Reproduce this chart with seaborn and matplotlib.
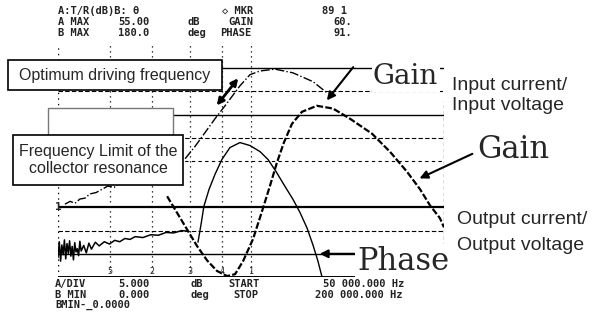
import seaborn as sns
import matplotlib
matplotlib.use('Agg')
import matplotlib.pyplot as plt
from matplotlib.patches import Rectangle

# analyzer trace, frequency in kHz, A = gain in dB, B = phase in degrees
in_freq = [92.4, 96.2, 100.1, 104.0, 107.9, 111.8, 115.7, 118.8, 121.9, 125.8, 129.3,
           132.4, 135.1, 137.8, 140.9, 144.8, 150.6, 156.9, 163.5, 172.0, 179.0,
           185.6, 190.7, 194.6, 198.4, 200.0]
in_gain = [22.4, 18.9, 15.3, 11.7, 8.6, 6.3, 5.2, 5.6, 8.4, 13.2, 19.2,
           24.7, 29.7, 34.0, 38.0, 40.6, 41.9, 41.3, 39.1, 35.9, 32.0,
           27.7, 23.9, 20.4, 17.7, 15.7]

up_freq = [52.7, 54.7, 56.6, 58.5, 60.5, 62.4, 64.8, 67.1, 69.4, 71.8, 74.1, 76.8, 79.9,
           85.8, 93.5, 99.4, 103.2, 107.1, 111.0, 114.9, 120.7, 124.6, 128.5, 134.3,
           141.3, 149.1, 154.5]
up_gain = [20.7, 21.3, 20.9, 21.8, 22.0, 22.9, 23.2, 23.9, 24.6, 24.3, 25.3, 25.9, 26.9,
           28.2, 29.5, 30.5, 33.1, 36.1, 39.1, 41.9, 46.2, 48.6, 49.4, 49.8,
           49.0, 47.1, 44.7]

out_freq = [50.0, 50.5, 51.0, 51.5, 52.0, 52.5, 53.0, 53.5, 54.0, 54.5, 55.0, 55.5, 56.0,
            56.5, 57.0, 57.5, 58.0, 58.5, 59.0, 60, 61, 62, 63, 64.5, 66, 68, 70, 72,
            74, 76, 78, 80, 83, 86, 89, 92, 95, 98, 100]
out_gain = [9.2, 12.6, 8.4, 11.9, 9.8, 13.0, 8.9, 12.2, 10.1, 12.8, 9.5, 11.6, 8.7,
            12.4, 10.4, 11.1, 9.6, 12.7, 10.6, 11.8, 10.2, 12.3, 11.0, 12.5, 11.7, 12.6,
            12.1, 12.9, 12.6, 13.3, 13.1, 13.7, 13.5, 14.1, 14.0, 14.6, 14.5, 15.0, 14.9]

ph_freq = [104.4, 105.6, 106.7, 108.7, 111.0, 113.7, 116.8, 120.7, 124.6, 128.5, 131.6,
           134.7, 138.2, 141.3, 144.0, 146.8, 149.1, 151.0, 152.6]
ph_deg = [27.0, 41.0, 54.9, 68.0, 79.6, 91.2, 100.4, 104.3, 102.0, 97.3, 91.2,
          81.9, 70.3, 60.3, 50.2, 37.9, 24.7, 12.4, 0.0]

grid_db = [50, 45, 40, 35, 30, 20, 15, 10, 5]
marker_freq = [70.2, 86.5, 101.3, 113.7, 125.0]
marker_names = ['5', '2', '3', '4', '1']

# screen readouts: (text, left pixel) per row
head_rows = [[('A:T/R(dB)B: θ', 58), ('◇ MKR', 222), ('89 1', 322)],
             [('A MAX', 58), ('55.00', 118), ('dB', 188), ('GAIN', 228), ('60.', 333)],
             [('B MAX', 58), ('180.0', 118), ('deg', 188), ('PHASE', 220), ('91.', 333)]]
foot_rows = [[('A/DIV', 55), ('5.000', 118), ('dB', 190), ('START', 228), ('50 000.000 Hz', 323)],
             [('B MIN', 55), ('0.000', 118), ('deg', 190), ('STOP', 233), ('200 000.000 Hz', 315)],
             [('BMIN-_0.0000', 55)]]

sns.set_style('white')
plt.rcParams['font.family'] = ['Liberation Sans', 'DejaVu Sans']

fig = plt.figure(figsize=(5.97, 3.29), dpi=100)
ax = fig.add_axes([58 / 597, 1 - 277 / 329, 386 / 597, 232 / 329])
ax2 = ax.twinx()
ax.set_xlim(50, 200)
ax.set_ylim(5, 55)
ax2.set_ylim(0, 180)
for a in (ax, ax2):
    for s in a.spines.values():
        s.set_visible(False)
    a.set_xticks([])
    a.set_yticks([])

# grid of the analyzer screen
styles = ['-', (0, (4, 2)), '-', (0, (4, 2)), (0, (3, 3)), '-', (0, (4, 2)), '-', '-']
widths = [1.0, 0.8, 1.0, 0.8, 0.8, 1.6, 0.8, 1.0, 1.4]
for lev, st, w in zip(grid_db, styles, widths):
    ax.axhline(lev, color='black', ls=st, lw=w, zorder=1)
ax.axvline(50, color='black', ls=(0, (1, 3)), lw=1.0, zorder=1)
ax.vlines(200, 5, 43, color='black', ls=(0, (3, 2)), lw=0.9, zorder=1)
for f, name in zip(marker_freq, marker_names):
    ax.axvline(f, color='black', ls=(0, (1, 3)), lw=0.9, zorder=1)
    ax.text(f, 6.2, name, fontsize=6, ha='center', va='center', family='DejaVu Sans Mono')
ax.text(50.3, 20, '1', fontsize=8, ha='center', va='center', fontweight='bold',
        family='DejaVu Sans Mono')

# traces
sns.lineplot(x=out_freq, y=out_gain, ax=ax, color='black', lw=1.1, sort=False, estimator=None)
sns.lineplot(x=up_freq, y=up_gain, ax=ax, color='black', lw=1.0, ls='-.', sort=False, estimator=None)
sns.lineplot(x=in_freq, y=in_gain, ax=ax, color='black', lw=1.6, ls=(0, (3, 1)), sort=False, estimator=None)
sns.lineplot(x=ph_freq, y=ph_deg, ax=ax2, color='black', lw=1.0, sort=False, estimator=None)

# arrows
arr = dict(arrowstyle='-|>', color='black', lw=1.5, mutation_scale=12)
ax.annotate('', xy=(120.7, 48.3), xytext=(111.0, 41.5),
            arrowprops=dict(arrowstyle='<|-|>', color='black', lw=2, mutation_scale=10))
ax.annotate('', xy=(153.8, 42.6), xytext=(165.4, 50.7), arrowprops=arr, annotation_clip=False)
ax.annotate('', xy=(189.5, 26.0), xytext=(212.0, 31.8), arrowprops=arr, annotation_clip=False)
ax.annotate('', xy=(150.6, 10.0), xytext=(166.2, 10.0), arrowprops=arr, annotation_clip=False)

mono = ['DejaVu Sans Mono', 'DejaVu Sans']
for row, yy in zip(head_rows, [11, 22, 33]):
    for txt, xx in row:
        fig.text(xx / 597, 1 - yy / 329, txt, family=mono, fontsize=7.5, fontweight='bold',
                 va='center', ha='left', color='#222222')
for row, yy in zip(foot_rows, [284, 295, 305]):
    for txt, xx in row:
        fig.text(xx / 597, 1 - yy / 329, txt, family=mono, fontsize=7.5, fontweight='bold',
                 va='center', ha='left', color='#222222')

# label boxes
fig.patches.append(Rectangle((8 / 597, 1 - 90 / 329), 214 / 597, 30 / 329, transform=fig.transFigure,
                             facecolor='white', edgecolor='black', lw=1.2, zorder=5))
fig.text(115 / 597, 1 - 75 / 329, 'Optimum driving frequency', fontsize=11.5,
         ha='center', va='center', zorder=6)
fig.patches.append(Rectangle((48 / 597, 1 - 135 / 329), 125 / 597, 27 / 329, transform=fig.transFigure,
                             facecolor='white', edgecolor='#777777', lw=1.0, zorder=5))
fig.patches.append(Rectangle((13 / 597, 1 - 185 / 329), 170 / 597, 50 / 329, transform=fig.transFigure,
                             facecolor='white', edgecolor='black', lw=1.2, zorder=5))
fig.text(98 / 597, 1 - 160 / 329, 'Frequency Limit of the\ncollector resonance', fontsize=11.5,
         ha='center', va='center', linespacing=1.2, zorder=6)

white = dict(facecolor='white', edgecolor='none', pad=1)
fig.text(373 / 597, 1 - 77 / 329, 'Gain', family='DejaVu Serif', fontsize=20,
         ha='left', va='center', bbox=white, zorder=6)
fig.text(477 / 597, 1 - 149 / 329, 'Gain', family='DejaVu Serif', fontsize=22,
         ha='left', va='center', zorder=6)
fig.text(357 / 597, 1 - 270 / 329, 'Phase', family='DejaVu Serif', fontsize=22,
         ha='left', va='baseline', bbox=white, zorder=6)
fig.text(452 / 597, 1 - 85 / 329, 'Input current/', fontsize=14, ha='left', va='center', zorder=6)
fig.text(452 / 597, 1 - 105 / 329, 'Input voltage', fontsize=14, ha='left', va='center', zorder=6)
fig.text(457 / 597, 1 - 220 / 329, 'Output current/', fontsize=14, ha='left', va='center', zorder=6)
fig.text(457 / 597, 1 - 245 / 329, 'Output voltage', fontsize=14, ha='left', va='center', zorder=6)

fig.savefig('out.png', dpi=100)
